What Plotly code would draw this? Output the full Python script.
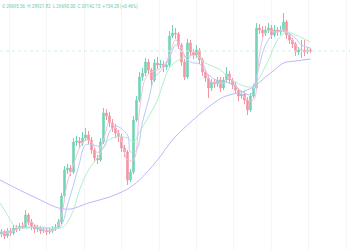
import plotly.graph_objects as go

closes = [24600, 24500, 24625, 24575, 24700, 24675, 24750, 24725, 25025, 24850,
          24750, 24675, 24700, 24625, 24650, 24600, 24625, 24675, 24725, 24850,
          25500, 26150, 26200, 26100, 26850, 26875, 26825, 26950, 27025, 26900,
          26650, 26450, 26400, 26850, 27575, 27500, 27325, 27200, 27075, 26975,
          26700, 26600, 25900, 26100, 27400, 27900, 28475, 28575, 28850, 28650,
          28400, 28825, 28775, 28800, 28725, 28775, 29500, 29575, 29550, 29275,
          28850, 28475, 29325, 29100, 29025, 29150, 28900, 28600, 28450, 28200,
          28350, 28300, 28400, 28200, 28400, 28550, 28400, 28275, 28150, 28000,
          28050, 27900, 27650, 28000, 28200, 29700, 29650, 29575, 29650, 29700,
          29525, 29650, 29600, 29650, 29850, 29525, 29400, 29300, 29100, 29150,
          29150, 29100, 29150, 29125]
first_open = 24550
highs = [24675, 24650, 24700, 24700, 24775, 24775, 24825, 24850, 25150, 25075,
         24925, 24800, 24775, 24750, 24725, 24700, 24700, 24750, 24800, 24925,
         25575, 26250, 26300, 26275, 26950, 27000, 26975, 27100, 27200, 27125,
         26975, 26725, 26525, 26950, 27700, 27675, 27600, 27425, 27300, 27150,
         27050, 26775, 26650, 26175, 27500, 28000, 28600, 28700, 28950, 28925,
         28700, 28925, 28975, 28900, 28875, 28875, 29625, 29775, 29700, 29600,
         29325, 28925, 29425, 29400, 29175, 29275, 29200, 28950, 28675, 28525,
         28425, 28425, 28475, 28475, 28475, 28725, 28625, 28450, 28350, 28200,
         28125, 28125, 27975, 28075, 28300, 29825, 29800, 29750, 29750, 29825,
         29775, 29775, 29725, 29750, 30075, 29900, 29575, 29450, 29350, 29225,
         29400, 29400, 29225, 29200]
lows = [24475, 24425, 24450, 24500, 24525, 24600, 24625, 24675, 24700, 24775,
        24650, 24575, 24600, 24550, 24575, 24525, 24550, 24575, 24625, 24675,
        24800, 25450, 26050, 26000, 26050, 26750, 26700, 26750, 26875, 26800,
        26550, 26350, 26300, 26350, 26800, 27400, 27225, 27100, 26950, 26850,
        26600, 26475, 25775, 25850, 26050, 27350, 27850, 28375, 28500, 28550,
        28225, 28350, 28675, 28700, 28600, 28650, 28725, 29450, 29425, 29175,
        28750, 28400, 28425, 29000, 28925, 28950, 28800, 28500, 28350, 27950,
        28125, 28200, 28225, 28100, 28150, 28350, 28300, 28175, 28050, 27875,
        27925, 27800, 27525, 27600, 27950, 28150, 29550, 29475, 29500, 29575,
        29425, 29475, 29500, 29525, 29600, 29425, 29300, 29200, 29000, 29025,
        28950, 29000, 29050, 29075]

pink_x = list(range(0, 103, 2)) + [103]
pink_y = [24575, 24575, 24625, 24700, 24800, 24850, 24725, 24650, 24625, 24675,
          25025, 25850, 26275, 26700, 26900, 26850, 26575, 26900, 27350, 27200,
          26900, 26400, 26400, 27650, 28450, 28600, 28650, 28750, 29025, 29400,
          29200, 28900, 29100, 29025, 28650, 28350, 28325, 28325, 28450, 28275,
          28075, 27900, 27900, 29025, 29600, 29625, 29600, 29650, 29525, 29275,
          29150, 29125, 29125]

blue_x = [-0.5, 3, 6, 10, 13, 18, 20, 22, 24, 26, 28, 32, 34, 36, 38, 42, 43, 45, 47, 49,
          51, 54, 56, 58, 60, 63, 66, 69, 73, 76, 79, 83, 84, 86, 88, 91, 94, 98, 100, 103]
blue_y = [24600, 24625, 24700, 24725, 24700, 24675, 24775, 25275, 25775, 26325,
          26775, 26750, 26700, 27100, 27250, 27025, 26600, 26650, 27350, 27900,
          28450, 28700, 28950, 29275, 29100, 28850, 28800, 28525, 28350, 28325,
          28175, 28025, 28200, 28775, 29275, 29575, 29625, 29450, 29275, 29200]

green_x = [-0.5, 2, 4, 6, 13, 19, 21, 24, 26, 29, 33, 35, 38, 42, 44, 46, 49, 52, 54, 56,
           59, 62, 65, 68, 73, 76, 80, 83, 85, 89, 92, 95, 98, 103]
green_y = [25325, 25025, 24775, 24700, 24725, 24700, 24750, 25150, 25650, 26150,
           26575, 26850, 26975, 26950, 26850, 27100, 27475, 27900, 28350, 28700,
           28900, 29000, 29000, 28825, 28650, 28450, 28275, 28225, 28350, 28900,
           29400, 29600, 29525, 29350]

purple_x = [-0.5, 6, 13, 19, 23, 29, 36, 42, 46, 52, 57, 62, 69, 74, 80, 84, 88, 91, 94, 98, 103]
purple_y = [25900, 25650, 25400, 25200, 25175, 25325, 25475, 25675, 25900, 26400,
            26900, 27275, 27725, 27975, 28100, 28225, 28475, 28650, 28825, 28875, 28925]

header = "O 29695.56  H 29921.82  L 29690.00  C 29142.15  +154.28 (+0.46%)"

opens = [first_open] + closes[:-1]
idx = list(range(len(closes)))

fig = go.Figure()
fig.add_trace(go.Candlestick(
    x=idx, open=opens, high=highs, low=lows, close=closes,
    increasing=dict(line=dict(color="#3cc49a", width=1), fillcolor="#3cc49a"),
    decreasing=dict(line=dict(color="#f26c7e", width=1), fillcolor="#f26c7e"),
    opacity=0.72, whiskerwidth=0, showlegend=False, hoverinfo="skip"))

for xs, ys, col in [(purple_x, purple_y, "#c3b4f7"), (green_x, green_y, "#b0efcb"),
                    (blue_x, blue_y, "#b6cbf7"), (pink_x, pink_y, "#f5c0dd")]:
    fig.add_trace(go.Scatter(x=xs, y=ys, mode="lines", line=dict(color=col, width=1, shape="spline"),
                             showlegend=False, hoverinfo="skip"))

fig.add_shape(type="line", xref="paper", x0=0, x1=1, yref="y", y0=closes[-1], y1=closes[-1],
              line=dict(color="#d3f0e4", width=1, dash="dot"))

fig.add_annotation(text=header, xref="paper", yref="paper", x=0, y=1, xanchor="left", yanchor="top",
                   showarrow=False, font=dict(size=4.5, color="#6ccaa8", family="Roboto"),
                   xshift=0, yshift=-1)

fig.update_layout(
    width=350, height=250, margin=dict(l=0, r=0, t=0, b=0),
    paper_bgcolor="white", plot_bgcolor="white",
    xaxis=dict(range=[-0.5, 116.17], showgrid=True, gridcolor="#f5f5f5", gridwidth=1,
               tick0=2.5, dtick=12.5, showticklabels=False, zeroline=False,
               rangeslider=dict(visible=False), fixedrange=True),
    yaxis=dict(range=[24150, 30400], showgrid=False, showticklabels=False, zeroline=False),
)

fig.write_html("out.html", config={"displayModeBar": False})
